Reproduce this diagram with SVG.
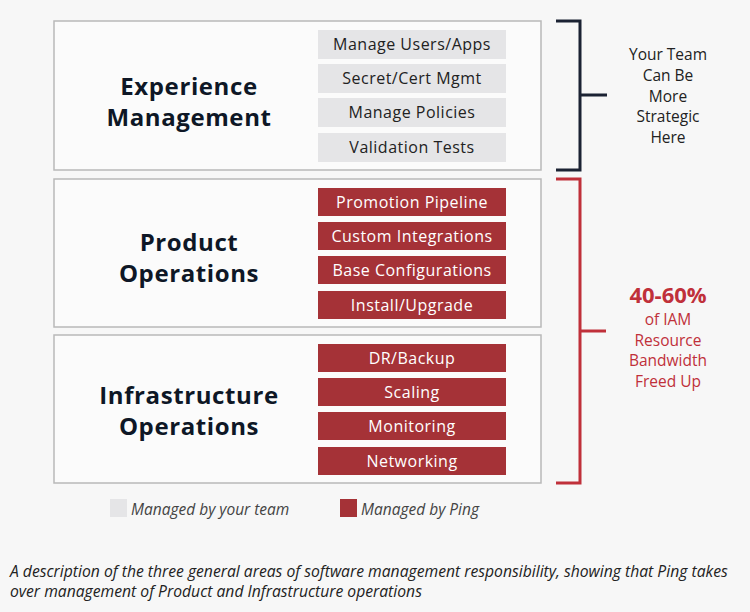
<svg xmlns="http://www.w3.org/2000/svg" width="750" height="612" viewBox="0 0 750 612">
<style>
.box{fill:#fbfbfb;stroke:#b9b9b9;stroke-width:1.5}
.g{fill:#e5e5e7}.r{fill:#a53237}
.it{font-family:"Open Sans","Liberation Sans",sans-serif;font-size:16px;letter-spacing:0.5px;text-anchor:middle}
.gt{fill:#222}.rt{fill:#fff}
.h{font-family:"Open Sans","Liberation Sans",sans-serif;font-weight:bold;font-size:24px;letter-spacing:0.6px;fill:#0e1726;text-anchor:middle}
.side{font-family:"Open Sans","Liberation Sans",sans-serif;font-size:15.5px;fill:#222;text-anchor:middle}
.rs{fill:#c0303a}
.leg{font-family:"Open Sans","Liberation Sans",sans-serif;font-style:italic;font-size:15.5px;fill:#444}
</style>
<rect width="750" height="612" fill="#f7f7f7"/>
<g id="experience">
<rect class="box" x="54" y="21" width="487" height="149"/>
<text class="h" x="189" y="95">Experience</text><text class="h" x="189" y="126">Management</text>
<rect class="g" x="318" y="30" width="188" height="29"/><text class="it gt" x="412" y="50">Manage Users/Apps</text>
<rect class="g" x="318" y="64" width="188" height="29"/><text class="it gt" x="412" y="84">Secret/Cert Mgmt</text>
<rect class="g" x="318" y="98" width="188" height="29"/><text class="it gt" x="412" y="118">Manage Policies</text>
<rect class="g" x="318" y="133" width="188" height="29"/><text class="it gt" x="412" y="153">Validation Tests</text>
</g>
<g id="product">
<rect class="box" x="54" y="179" width="487" height="148"/>
<text class="h" x="189" y="251">Product</text><text class="h" x="189" y="282">Operations</text>
<rect class="r" x="318" y="188" width="188" height="28"/><text class="it rt" x="412" y="208">Promotion Pipeline</text>
<rect class="r" x="318" y="222" width="188" height="28"/><text class="it rt" x="412" y="242">Custom Integrations</text>
<rect class="r" x="318" y="256" width="188" height="28"/><text class="it rt" x="412" y="276">Base Configurations</text>
<rect class="r" x="318" y="291" width="188" height="28"/><text class="it rt" x="412" y="311">Install/Upgrade</text>
</g>
<g id="infrastructure">
<rect class="box" x="54" y="335" width="487" height="148"/>
<text class="h" x="189" y="404">Infrastructure</text><text class="h" x="189" y="435">Operations</text>
<rect class="r" x="318" y="344" width="188" height="28"/><text class="it rt" x="412" y="364">DR/Backup</text>
<rect class="r" x="318" y="378" width="188" height="28"/><text class="it rt" x="412" y="398">Scaling</text>
<rect class="r" x="318" y="412" width="188" height="28"/><text class="it rt" x="412" y="432">Monitoring</text>
<rect class="r" x="318" y="447" width="188" height="28"/><text class="it rt" x="412" y="467">Networking</text>
</g>
<g id="connectors" fill="none" stroke-width="3">
<path d="M556 21H580V170H556M580 95H607" stroke="#1b2233"/>
<path d="M556 179H580V483H556M580 331H606" stroke="#c0303a"/>
</g>
<g id="side-labels">
<text class="side" x="668" y="60">Your Team</text><text class="side" x="668" y="81">Can Be</text><text class="side" x="668" y="102">More</text><text class="side" x="668" y="122">Strategic</text><text class="side" x="668" y="143">Here</text>
<text x="668" y="303" font-family="'Open Sans','Liberation Sans',sans-serif" font-weight="bold" font-size="22" fill="#c0303a" text-anchor="middle">40-60%</text>
<text class="side rs" x="668" y="325">of IAM</text><text class="side rs" x="668" y="346">Resource</text><text class="side rs" x="668" y="366">Bandwidth</text><text class="side rs" x="668" y="387">Freed Up</text>
</g>
<g id="legend">
<rect class="g" x="110" y="499" width="17" height="18"/><text class="leg" x="131" y="515">Managed by your team</text>
<rect class="r" x="340" y="499" width="17" height="18"/><text class="leg" x="361" y="515">Managed by Ping</text>
</g>
<g id="caption" font-family="'Open Sans','Liberation Sans',sans-serif" font-style="italic" font-size="15.7" fill="#222">
<text x="10" y="577">A description of the three general areas of software management responsibility, showing that Ping takes</text>
<text x="10" y="597">over management of Product and Infrastructure operations</text>
</g>
</svg>
